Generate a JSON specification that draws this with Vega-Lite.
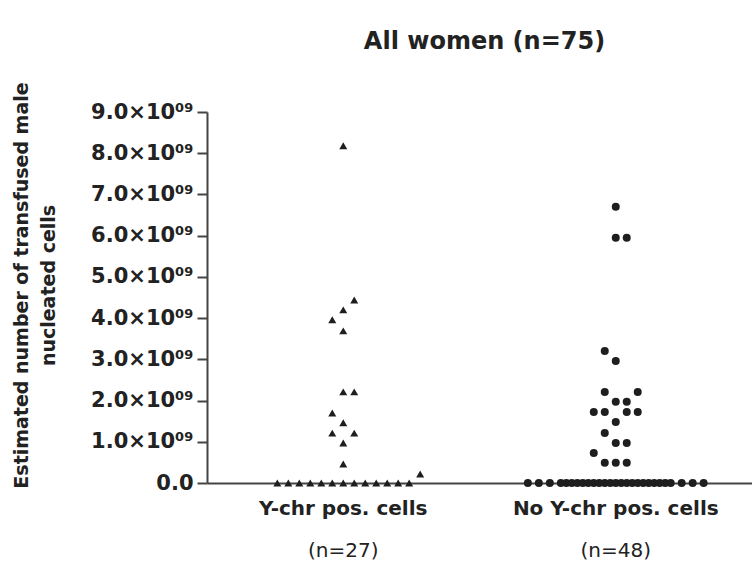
{
  "$schema": "https://vega.github.io/schema/vega-lite/v6.json",
  "width": 545,
  "height": 371,
  "autosize": "none",
  "padding": {"left": 207, "top": 112, "right": 0, "bottom": 79},
  "background": "white",
  "config": {"view": {"stroke": null}, "font": "DejaVu Sans"},
  "title": {"text": "All women (n=75)", "fontSize": 24, "fontWeight": "bold", "color": "#222222", "anchor": "middle", "dx": 5, "offset": 28, "font": "DejaVu Sans"},
  "data": {"values": [
    {"group": "Y-chr pos. cells", "off": 0, "v": 8.18e9},
    {"group": "Y-chr pos. cells", "off": 1, "v": 4.44e9},
    {"group": "Y-chr pos. cells", "off": 0, "v": 4.2e9},
    {"group": "Y-chr pos. cells", "off": -1, "v": 3.96e9},
    {"group": "Y-chr pos. cells", "off": 0, "v": 3.69e9},
    {"group": "Y-chr pos. cells", "off": 0, "v": 2.21e9},
    {"group": "Y-chr pos. cells", "off": 1, "v": 2.21e9},
    {"group": "Y-chr pos. cells", "off": -1, "v": 1.7e9},
    {"group": "Y-chr pos. cells", "off": 0, "v": 1.46e9},
    {"group": "Y-chr pos. cells", "off": -1, "v": 1.21e9},
    {"group": "Y-chr pos. cells", "off": 1, "v": 1.21e9},
    {"group": "Y-chr pos. cells", "off": 0, "v": 0.97e9},
    {"group": "Y-chr pos. cells", "off": 0, "v": 0.46e9},
    {"group": "Y-chr pos. cells", "off": 7, "v": 0.22e9},
    {"group": "Y-chr pos. cells", "off": -6, "v": 0},
    {"group": "Y-chr pos. cells", "off": -5, "v": 0},
    {"group": "Y-chr pos. cells", "off": -4, "v": 0},
    {"group": "Y-chr pos. cells", "off": -3, "v": 0},
    {"group": "Y-chr pos. cells", "off": -2, "v": 0},
    {"group": "Y-chr pos. cells", "off": -1, "v": 0},
    {"group": "Y-chr pos. cells", "off": 0, "v": 0},
    {"group": "Y-chr pos. cells", "off": 1, "v": 0},
    {"group": "Y-chr pos. cells", "off": 2, "v": 0},
    {"group": "Y-chr pos. cells", "off": 3, "v": 0},
    {"group": "Y-chr pos. cells", "off": 4, "v": 0},
    {"group": "Y-chr pos. cells", "off": 5, "v": 0},
    {"group": "Y-chr pos. cells", "off": 6, "v": 0},
    {"group": "No Y-chr pos. cells", "off": 0, "v": 6.7e9},
    {"group": "No Y-chr pos. cells", "off": 0, "v": 5.95e9},
    {"group": "No Y-chr pos. cells", "off": 1, "v": 5.95e9},
    {"group": "No Y-chr pos. cells", "off": -1, "v": 3.2e9},
    {"group": "No Y-chr pos. cells", "off": 0, "v": 2.96e9},
    {"group": "No Y-chr pos. cells", "off": -1, "v": 2.21e9},
    {"group": "No Y-chr pos. cells", "off": 2, "v": 2.21e9},
    {"group": "No Y-chr pos. cells", "off": 0, "v": 1.97e9},
    {"group": "No Y-chr pos. cells", "off": 1, "v": 1.97e9},
    {"group": "No Y-chr pos. cells", "off": -2, "v": 1.72e9},
    {"group": "No Y-chr pos. cells", "off": -1, "v": 1.72e9},
    {"group": "No Y-chr pos. cells", "off": 1, "v": 1.72e9},
    {"group": "No Y-chr pos. cells", "off": 2, "v": 1.72e9},
    {"group": "No Y-chr pos. cells", "off": 0, "v": 1.48e9},
    {"group": "No Y-chr pos. cells", "off": -1, "v": 1.21e9},
    {"group": "No Y-chr pos. cells", "off": 0, "v": 0.97e9},
    {"group": "No Y-chr pos. cells", "off": 1, "v": 0.97e9},
    {"group": "No Y-chr pos. cells", "off": -2, "v": 0.73e9},
    {"group": "No Y-chr pos. cells", "off": -1, "v": 0.49e9},
    {"group": "No Y-chr pos. cells", "off": 0, "v": 0.49e9},
    {"group": "No Y-chr pos. cells", "off": 1, "v": 0.49e9},
    {"group": "No Y-chr pos. cells", "off": -8, "v": 0},
    {"group": "No Y-chr pos. cells", "off": -7, "v": 0},
    {"group": "No Y-chr pos. cells", "off": -6, "v": 0},
    {"group": "No Y-chr pos. cells", "off": -5, "v": 0},
    {"group": "No Y-chr pos. cells", "off": -4.5, "v": 0},
    {"group": "No Y-chr pos. cells", "off": -4, "v": 0},
    {"group": "No Y-chr pos. cells", "off": -3.5, "v": 0},
    {"group": "No Y-chr pos. cells", "off": -3, "v": 0},
    {"group": "No Y-chr pos. cells", "off": -2.5, "v": 0},
    {"group": "No Y-chr pos. cells", "off": -2, "v": 0},
    {"group": "No Y-chr pos. cells", "off": -1.5, "v": 0},
    {"group": "No Y-chr pos. cells", "off": -1, "v": 0},
    {"group": "No Y-chr pos. cells", "off": -0.5, "v": 0},
    {"group": "No Y-chr pos. cells", "off": 0, "v": 0},
    {"group": "No Y-chr pos. cells", "off": 0.5, "v": 0},
    {"group": "No Y-chr pos. cells", "off": 1, "v": 0},
    {"group": "No Y-chr pos. cells", "off": 1.5, "v": 0},
    {"group": "No Y-chr pos. cells", "off": 2, "v": 0},
    {"group": "No Y-chr pos. cells", "off": 2.5, "v": 0},
    {"group": "No Y-chr pos. cells", "off": 3, "v": 0},
    {"group": "No Y-chr pos. cells", "off": 3.5, "v": 0},
    {"group": "No Y-chr pos. cells", "off": 4, "v": 0},
    {"group": "No Y-chr pos. cells", "off": 4.5, "v": 0},
    {"group": "No Y-chr pos. cells", "off": 5, "v": 0},
    {"group": "No Y-chr pos. cells", "off": 6, "v": 0},
    {"group": "No Y-chr pos. cells", "off": 7, "v": 0},
    {"group": "No Y-chr pos. cells", "off": 8, "v": 0}
  ]},
  "resolve": {"axis": {"x": "independent"}},
  "layer": [
    {
      "mark": {"type": "point", "filled": true, "opacity": 1, "clip": false},
      "encoding": {
        "x": {"field": "group", "type": "nominal", "sort": ["Y-chr pos. cells", "No Y-chr pos. cells"],
              "scale": {"type": "band", "paddingInner": 0, "paddingOuter": 0},
              "axis": {"title": null, "orient": "bottom", "labelAngle": 0, "ticks": false, "domain": true, "domainColor": "#444", "domainWidth": 2,
                       "labelFont": "DejaVu Sans", "labelFontWeight": "bold", "labelFontSize": 20, "labelColor": "#222222", "labelPadding": 15, "labelLimit": 400}},
        "xOffset": {"field": "off", "type": "quantitative", "scale": {"domain": [-12.4, 12.4]}},
        "y": {"field": "v", "type": "quantitative",
              "scale": {"domain": [0, 9e9], "nice": false, "zero": true},
              "axis": {"title": ["Estimated number of transfused male", "nucleated cells"], "values": [0,1e9,2e9,3e9,4e9,5e9,6e9,7e9,8e9,9e9],
                       "labelExpr": "datum.value == 0 ? '0.0' : format(datum.value/1e9, '.1f') + '×10⁰⁹'",
                       "grid": false, "domainColor": "#444", "domainWidth": 2, "tickColor": "#444", "tickWidth": 2, "tickSize": 10,
                       "labelFont": "DejaVu Sans", "labelFontWeight": "bold", "labelFontSize": 21, "labelColor": "#222222", "labelPadding": 4,
                       "titleFont": "DejaVu Sans", "titleFontWeight": "bold", "titleFontSize": 19, "titleColor": "#222222", "titlePadding": 32, "titleLineHeight": 27, "titleY": 173}},
        "shape": {"field": "group", "type": "nominal", "scale": {"domain": ["Y-chr pos. cells", "No Y-chr pos. cells"], "range": ["triangle-up", "circle"]}, "legend": null},
        "size": {"value": 64},
        "color": {"value": "#1e1e1e"}
      }
    },
    {
      "mark": {"type": "point", "opacity": 0},
      "encoding": {
        "x": {"field": "group", "type": "nominal", "sort": ["Y-chr pos. cells", "No Y-chr pos. cells"],
              "axis": {"title": null, "orient": "bottom", "labelAngle": 0, "ticks": false, "domain": false, "offset": 0,
                       "labelExpr": "datum.value == 'Y-chr pos. cells' ? '(n=27)' : '(n=48)'",
                       "labelFont": "DejaVu Sans", "labelFontWeight": "normal", "labelFontSize": 20, "labelColor": "#222222", "labelPadding": 57, "labelLimit": 400}},
        "y": {"field": "v", "type": "quantitative"}
      }
    }
  ]
}
